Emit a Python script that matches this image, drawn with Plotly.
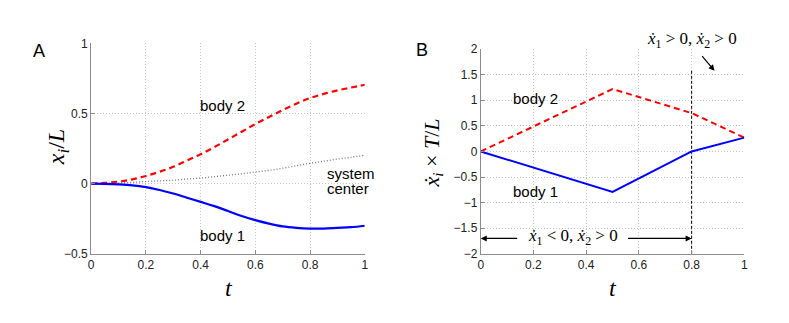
import plotly.graph_objects as go

# panel A: positions over time
t_a = [0, 0.05, 0.1, 0.15, 0.2, 0.25, 0.3, 0.35, 0.4, 0.45, 0.5,
       0.55, 0.6, 0.65, 0.7, 0.75, 0.8, 0.85, 0.9, 0.95, 1.0]
body2_a = [0, 0.005, 0.015, 0.03, 0.055, 0.085, 0.12, 0.165, 0.21, 0.26, 0.315,
           0.37, 0.425, 0.475, 0.525, 0.57, 0.61, 0.64, 0.665, 0.685, 0.705]
body1_a = [0, -0.001, -0.005, -0.012, -0.025, -0.045, -0.07, -0.1, -0.13, -0.16, -0.195,
           -0.23, -0.26, -0.285, -0.305, -0.315, -0.32, -0.32, -0.315, -0.31, -0.3]
center_a = [0, 0.002, 0.005, 0.009, 0.015, 0.02, 0.025, 0.033, 0.04, 0.05, 0.06,
            0.07, 0.083, 0.095, 0.11, 0.128, 0.145, 0.16, 0.175, 0.188, 0.203]

# panel B: velocities
t_b = [0, 0.5, 0.8, 1.0]
body2_b = [0, 1.22, 0.75, 0.27]
body1_b = [0, -0.79, 0.0, 0.27]
t_switch = 0.8
switch_top = 1.58

W, H = 789, 323

def fx(x):
    return x / W

def fy(y):
    return 1 - y / H

xa_dom = [fx(89), fx(365)]
xb_dom = [fx(482), fx(748)]
ya_dom = [fy(258), fy(38)]
yb_dom = [fy(258), fy(44)]

BLUE = '#0000ff'
RED = '#ff0000'
sans = 'Liberation Sans, Arial, sans-serif'
serif = 'Liberation Serif, Times New Roman, serif'

fig = go.Figure()

fig.add_trace(go.Scatter(x=t_a, y=center_a, mode='lines', line=dict(color='#777777', width=1.3, dash='1px,2px', shape='spline'),
                         xaxis='x', yaxis='y'))
fig.add_trace(go.Scatter(x=t_a, y=body2_a, mode='lines', line=dict(color=RED, width=2.2, dash='6px,4px', shape='spline'),
                         xaxis='x', yaxis='y'))
fig.add_trace(go.Scatter(x=t_a, y=body1_a, mode='lines', line=dict(color=BLUE, width=2.2, shape='spline'),
                         xaxis='x', yaxis='y'))

fig.add_trace(go.Scatter(x=[t_switch, t_switch], y=[-2, switch_top], mode='lines',
                         line=dict(color='black', width=1, dash='3px,2px'), xaxis='x2', yaxis='y2'))
fig.add_trace(go.Scatter(x=t_b, y=body2_b, mode='lines', line=dict(color=RED, width=2, dash='6px,4px'),
                         xaxis='x2', yaxis='y2'))
fig.add_trace(go.Scatter(x=t_b, y=body1_b, mode='lines', line=dict(color=BLUE, width=2),
                         xaxis='x2', yaxis='y2'))

axis_style = dict(showgrid=True, gridcolor='#c4c4c4', griddash='1px,2px', gridwidth=1,
                  showline=True, linecolor='#8c8c8c', linewidth=1,
                  ticks='inside', ticklen=4, tickcolor='#8c8c8c',
                  tickfont=dict(family=sans, size=12, color='#222222'),
                  zeroline=False, fixedrange=True)

fig.update_layout(
    width=W, height=H, margin=dict(l=0, r=0, t=0, b=0),
    paper_bgcolor='white', plot_bgcolor='white', showlegend=False,
    xaxis=dict(domain=xa_dom, range=[0, 1], tickvals=[0, 0.2, 0.4, 0.6, 0.8, 1],
               ticktext=['0', '0.2', '0.4', '0.6', '0.8', '1'], anchor='y', **axis_style),
    yaxis=dict(domain=ya_dom, range=[-0.5, 1], tickvals=[-0.5, 0, 0.5, 1],
               ticktext=['\u22120.5', '0', '0.5', '1'], anchor='x', **axis_style),
    xaxis2=dict(domain=xb_dom, range=[0, 1], tickvals=[0, 0.2, 0.4, 0.6, 0.8, 1],
                ticktext=['0', '0.2', '0.4', '0.6', '0.8', '1'], anchor='y2', **axis_style),
    yaxis2=dict(domain=yb_dom, range=[-2, 2], tickvals=[-2, -1.5, -1, -0.5, 0, 0.5, 1, 1.5, 2],
                ticktext=['\u22122', '\u22121.5', '\u22121', '\u22120.5', '0', '0.5', '1', '1.5', '2'],
                anchor='x2', **axis_style),
)

ann = []
def label(text, x, y, xref, yref, size=15, family=sans, xanchor='center', **kw):
    ann.append(dict(text=text, x=x, y=y, xref=xref, yref=yref, showarrow=False,
                    xanchor=xanchor, yanchor='middle',
                    font=dict(family=family, size=size, color='black'), **kw))

# panel letters
label('A', fx(36), fy(46), 'paper', 'paper', size=18)
label('B', fx(423), fy(45), 'paper', 'paper', size=18)

# axis titles
label('<i>x<sub>i</sub></i>/<i>L</i>', fx(55), fy(147), 'paper', 'paper', size=24, family=serif, textangle=-90)
label('<i>t</i>', fx(228), fy(294), 'paper', 'paper', size=24, family=serif)
label('<i>x\u0307<sub>i</sub></i> \u00d7 <i>T</i>/<i>L</i>', fx(434), fy(153), 'paper', 'paper', size=22, family=serif, textangle=-90)
label('<i>t</i>', fx(615), fy(294), 'paper', 'paper', size=24, family=serif)

# panel A texts
label('body 2', 0.48, 0.56, 'x', 'y')
label('body 1', 0.48, -0.366, 'x', 'y')
label('system', 0.853, 0.069, 'x', 'y', xanchor='left')
label('center', 0.853, -0.034, 'x', 'y', xanchor='left')

# panel B texts
label('body 2', 0.207, 1.03, 'x2', 'y2')
label('body 1', 0.207, -0.775, 'x2', 'y2')
label('<i>x\u0307</i><sub>1</sub> &lt; 0, <i>x\u0307</i><sub>2</sub> &gt; 0', 0.35, -1.68, 'x2', 'y2', size=17, family=serif)
label('<i>x\u0307</i><sub>1</sub> &gt; 0, <i>x\u0307</i><sub>2</sub> &gt; 0', fx(695), fy(35), 'paper', 'paper', size=17, family=serif)

arrow = dict(showarrow=True, arrowhead=2, arrowsize=1, arrowwidth=1.2, arrowcolor='black', text='',
             xref='x2', yref='y2', axref='x2', ayref='y2')
ann.append(dict(x=0, y=-1.7, ax=0.144, ay=-1.7, **arrow))
ann.append(dict(x=0.8, y=-1.7, ax=0.553, ay=-1.7, **arrow))
ann.append(dict(x=0.887, y=1.575, ax=0.835, ay=1.89, **arrow))

fig.update_layout(annotations=ann)

# drop the page margin so the figure fills the window exactly
fig.write_html("out.html", config={'displayModeBar': False},
               post_script="document.body.style.margin='0';document.body.style.overflow='hidden';")
